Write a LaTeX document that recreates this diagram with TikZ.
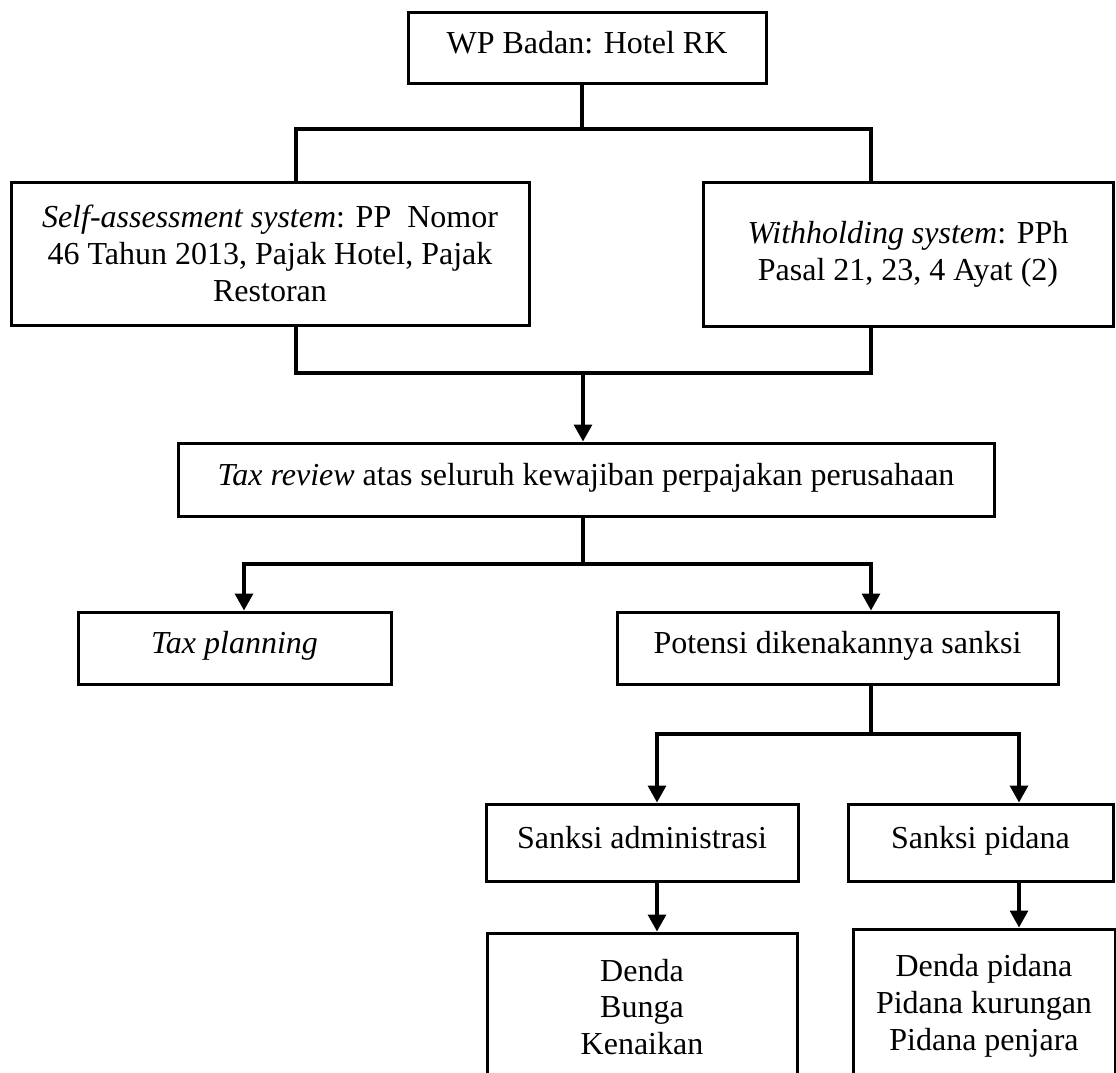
\documentclass[tikz,border=0pt]{standalone}
\usepackage{fontspec}
\setmainfont{Liberation Serif}
\usetikzlibrary{arrows.meta}

\begin{document}
\begin{tikzpicture}[x=1pt, y=-1pt,
	kotak/.style={draw, line width=1.5pt, inner sep=0pt, align=center, font=\fontsize{16}{18.4}\selectfont},
	satu/.style={kotak, text height=11pt, text depth=5.5pt},
	garis/.style={line width=1.6pt},
	panah/.style={garis, -{Triangle[length=8.5pt, width=9pt]}}]
	\useasboundingbox (0, 0) rectangle (558, 536.5);
	\clip (0, 0) rectangle (558, 536.5);
	% kotak
	\node [satu, minimum width=179pt, minimum height=35.5pt] (wp) at (293.5, 23.75) {WP Badan: Hotel RK};
	\node [kotak, minimum width=259pt, minimum height=71.5pt] (sa) at (135, 126.75) {\textit{Self-assessment system}: PP\ \ Nomor\\46 Tahun 2013, Pajak Hotel, Pajak\\Restoran};
	\node [kotak, minimum width=205pt, minimum height=72pt] (wh) at (454, 127) {\textit{Withholding system}: PPh\\Pasal 21, 23, 4 Ayat (2)};
	\node [satu, minimum width=408pt, minimum height=36.5pt] (review) at (293, 239.75) {\textit{Tax review} atas seluruh kewajiban perpajakan perusahaan};
	\node [satu, minimum width=156.5pt, minimum height=36pt] (plan) at (117.25, 324) {\textit{Tax planning}};
	\node [satu, minimum width=220.5pt, minimum height=36pt] (potensi) at (418.75, 324) {Potensi dikenakannya sanksi};
	\node [satu, minimum width=156pt, minimum height=38.5pt] (admin) at (321, 421.25) {Sanksi administrasi};
	\node [satu, minimum width=132.5pt, minimum height=38.5pt] (pidana) at (490.25, 421.25) {Sanksi pidana};
	\node [kotak, minimum width=155pt, minimum height=74pt] (denda) at (321, 503.5) {Denda\\Bunga\\Kenaikan};
	\node [kotak, minimum width=131pt, minimum height=77pt] (dpidana) at (492, 503) {Denda pidana\\Pidana kurungan\\Pidana penjara};
	% cabang
	\coordinate (cabang1) at (291, 64.5);
	\coordinate (kiri1) at (148, 64.5);
	\coordinate (kanan1) at (435.5, 64.5);
	\coordinate (cabang2) at (291.5, 186.5);
	\coordinate (kiri2) at (148, 186.5);
	\coordinate (kanan2) at (435.5, 186.5);
	\coordinate (cabang3) at (291.5, 282);
	\coordinate (kiri3) at (122, 282);
	\coordinate (kanan3) at (435.5, 282);
	\coordinate (cabang4) at (435.5, 367);
	\coordinate (kiri4) at (328.5, 367);
	\coordinate (kanan4) at (509.5, 367);
	\draw [garis] (wp.south -| cabang1) -- (cabang1);
	\draw [garis] (sa.north -| kiri1) -- (kiri1) -- (kanan1) -- (wh.north -| kanan1);
	\draw [garis] (sa.south -| kiri2) -- (kiri2) -- (kanan2) -- (wh.south -| kanan2);
	\draw [panah] (cabang2) -- (review.north -| cabang2);
	\draw [garis] (review.south -| cabang3) -- (cabang3);
	\draw [panah] (cabang3) -- (kiri3) -- (plan.north -| kiri3);
	\draw [panah] (cabang3) -- (kanan3) -- (potensi.north -| kanan3);
	\draw [garis] (potensi.south -| cabang4) -- (cabang4);
	\draw [panah] (cabang4) -- (kiri4) -- (admin.north -| kiri4);
	\draw [panah] (cabang4) -- (kanan4) -- (pidana.north -| kanan4);
	\foreach \a/\b/\c in {admin/denda/kiri4, pidana/dpidana/kanan4} {
		\draw [panah] (\a.south -| \c) -- (\b.north -| \c);
	}
\end{tikzpicture}
\end{document}
